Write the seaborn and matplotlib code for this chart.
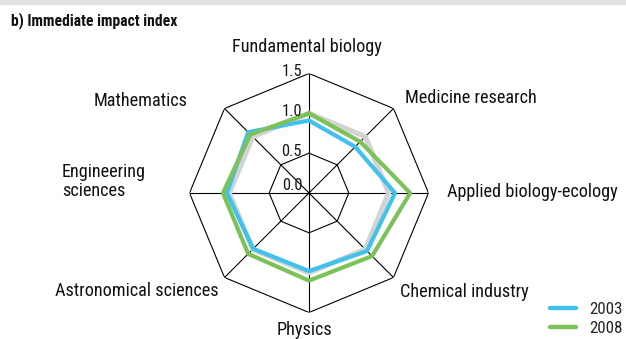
import numpy as np
import pandas as pd
import matplotlib
matplotlib.use("Agg")
import matplotlib.pyplot as plt
from matplotlib import font_manager as fm
import seaborn as sns

categories = ["Fundamental biology", "Medicine research", "Applied biology-ecology",
              "Chemical industry", "Physics", "Astronomical sciences",
              "Engineering sciences", "Mathematics"]
v2003 = [0.91, 0.82, 1.08, 1.03, 0.98, 0.99, 1.03, 1.08]
v2008 = [1.00, 0.91, 1.27, 1.12, 1.10, 1.08, 1.08, 1.04]
years = ["2003", "2008"]
ring_ticks = [0.0, 0.5, 1.0, 1.5]

sns.set_theme(style="white")

# the reference uses a condensed sans; fall back to Liberation Sans a bit smaller
narrow = None
for fam in ["Liberation Sans Narrow", "Roboto Condensed", "Arial Narrow"]:
    try:
        fm.findfont(fm.FontProperties(family=fam), fallback_to_default=False)
        narrow = fam
        break
    except ValueError:
        pass
k = 0.94 if narrow else 0.83
plt.rcParams["font.family"] = [narrow or "Liberation Sans", "DejaVu Sans"]

n = len(categories)
theta = np.linspace(0, 2 * np.pi, n, endpoint=False)
theta_c = np.append(theta, 2 * np.pi)

rows = []
for yr, vals in zip(years, [v2003, v2008]):
    for t, v in zip(theta_c, list(vals) + [vals[0]]):
        rows.append({"theta": t, "value": v, "year": yr})
df = pd.DataFrame(rows)

W, H = 626, 339
fig = plt.figure(figsize=(W / 100, H / 100), dpi=100)
fig.patches.append(plt.Rectangle((0, 1 - 4 / H), 1, 4 / H, transform=fig.transFigure,
                                 color="#e4e4e6", zorder=0))

cx, cy, R = 309, 193, 119.5
ax = fig.add_axes([(cx - R) / W, (H - cy - R) / H, 2 * R / W, 2 * R / H], projection="polar")
ax.set_theta_zero_location("N")
ax.set_theta_direction(-1)
ax.grid(False)
ax.spines["polar"].set_visible(False)
ax.patch.set_alpha(0)

# polygon grid
for r in [0.5, 1.5]:
    ax.plot(theta_c, [r] * (n + 1), color="black", lw=0.8, zorder=1)
ax.plot(theta_c, [1.0] * (n + 1), color="#d3d3d3", lw=3.8, zorder=2)
for t in theta:
    ax.plot([t, t], [0, 1.5], color="black", lw=0.8, zorder=1)

sns.lineplot(data=df, x="theta", y="value", hue="year", sort=False, estimator=None,
             palette={"2003": "#41c1ec", "2008": "#7cc258"}, lw=3, ax=ax,
             legend=False, zorder=3)
ax.set_xlabel("")
ax.set_ylabel("")
ax.set_ylim(0, 1.5)
ax.set_xticks([])
ax.set_yticks([])

for r in ring_ticks:
    dy = 2 if r == 0 else -2
    ax.annotate(f"{r:.1f}", xy=(0, r), xytext=(-5, dy), textcoords="offset points",
                ha="right", va="baseline", fontsize=12.5 * k, color="#1a1a1a", zorder=4)

# category labels (pixel positions of the reference)
fs = 14 * k
lab = [("Fundamental biology", 307, 52, "center"),
       ("Medicine research", 471, 103, "center"),
       ("Applied biology-ecology", 447, 197, "left"),
       ("Chemical industry", 400, 297, "left"),
       ("Physics", 305, 335, "center"),
       ("Astronomical sciences", 219, 296, "right"),
       ("Engineering", 62, 177, "left"),
       ("sciences", 62, 195.5, "left"),
       ("Mathematics", 188, 105.5, "right")]
for txt, x, y, ha in lab:
    fig.text(x / W, 1 - y / H, txt, ha=ha, va="baseline", fontsize=fs, color="#111111")

fig.text(11 / W, 1 - 25 / H, "b) Immediate impact index", fontsize=12 * k,
         fontweight="bold", ha="left", va="baseline", color="#111111")

handles = [plt.Line2D([], [], color=c, lw=3.2, solid_capstyle="round")
           for c in ["#41c1ec", "#7cc258"]]
fig.legend(handles, years, loc="lower right", bbox_to_anchor=(1.0, 0.0),
           frameon=False, fontsize=13 * k, handlelength=1.55, handletextpad=0.75,
           labelspacing=0.24, borderaxespad=0.0, borderpad=0.2)

fig.savefig("out.png", dpi=100)
